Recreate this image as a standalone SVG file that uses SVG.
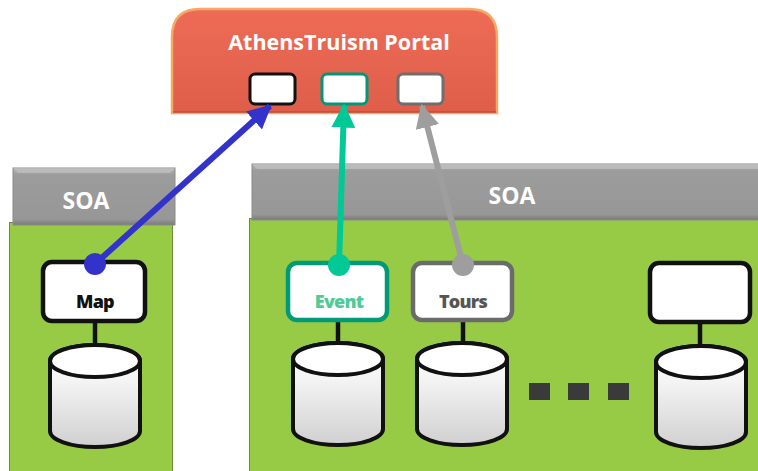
<svg xmlns="http://www.w3.org/2000/svg" width="758" height="471" viewBox="0 0 758 471">
  <defs>
    <linearGradient id="portalFill" x1="0" y1="0" x2="0" y2="1">
      <stop offset="0" stop-color="#EE6C56"/>
      <stop offset="1" stop-color="#DE5E4A"/>
    </linearGradient>
    <linearGradient id="headFill" x1="0" y1="0" x2="0" y2="1">
      <stop offset="0" stop-color="#B4B4B4"/>
      <stop offset="0.12" stop-color="#9C9C9C"/>
      <stop offset="0.9" stop-color="#979797"/>
      <stop offset="1" stop-color="#7A7A7A"/>
    </linearGradient>
    <linearGradient id="dbFill" x1="0" y1="0" x2="0" y2="1">
      <stop offset="0" stop-color="#FFFFFF"/>
      <stop offset="0.35" stop-color="#F4F4F4"/>
      <stop offset="1" stop-color="#D0D0D0"/>
    </linearGradient>
    <marker id="headBlue" viewBox="0 0 10 10" refX="9" refY="5" markerWidth="4" markerHeight="4" orient="auto" markerUnits="strokeWidth">
      <path d="M0,0 L10,5 L0,10 z" fill="#3333CC"/>
    </marker>
    <marker id="headTeal" viewBox="0 0 10 10" refX="9" refY="5" markerWidth="4" markerHeight="4" orient="auto" markerUnits="strokeWidth">
      <path d="M0,0 L10,5 L0,10 z" fill="#00C896"/>
    </marker>
    <marker id="headGray" viewBox="0 0 10 10" refX="9" refY="5" markerWidth="4" markerHeight="4" orient="auto" markerUnits="strokeWidth">
      <path d="M0,0 L10,5 L0,10 z" fill="#9E9E9E"/>
    </marker>
    <!-- database cylinder, 90 wide, origin at top-left of the body -->
    <g id="db">
      <path d="M0,16 L0,86 A45,16 0 0 0 90,86 L90,16 A45,16 0 0 0 0,16 z" fill="url(#dbFill)" stroke="#111" stroke-width="4"/>
      <ellipse cx="45" cy="16" rx="45" ry="16" fill="#FFFFFF" stroke="#111" stroke-width="4"/>
    </g>
  </defs>
  <style>
    .soa { font-family: "Open Sans", "Liberation Sans", sans-serif; font-weight: bold; font-size: 23px; fill: #FFFFFF; text-anchor: middle; }
    .body { fill: #97CB45; stroke: #6E8F3A; stroke-width: 1; }
    .head { fill: url(#headFill); stroke: #8A8A8A; stroke-width: 1; }
    .svc { fill: #FFFFFF; stroke-width: 4.5; }
    .lbl { font-family: "Open Sans", "Liberation Sans", sans-serif; font-weight: 800; font-size: 18px; text-anchor: middle; letter-spacing: -0.8px; }
    .port { fill: #FFFFFF; stroke-width: 3; }
    .stem { stroke: #111; stroke-width: 4.5; }
    .dots { fill: #3A3A3A; }
  </style>

  <rect width="758" height="471" fill="#FFFFFF"/>

  <!-- portal -->
  <g id="portal">
    <path d="M172,113 L172,37 Q172,9 200,9 L469,9 Q497,9 497,37 L497,113 z" fill="url(#portalFill)" stroke="#F5A964" stroke-width="2.5"/>
    <line x1="173" y1="112" x2="496" y2="112" stroke="#B8493A" stroke-width="1.5"/>
    <text x="339" y="50" font-family="'Open Sans', 'Liberation Sans', sans-serif" font-weight="bold" font-size="21.5" fill="#FFFFFF" text-anchor="middle">AthensTruism Portal</text>
    <rect class="port" x="250" y="74" width="45" height="30" rx="5" stroke="#111"/>
    <rect class="port" x="322" y="74" width="45" height="30" rx="5" stroke="#00977A"/>
    <rect class="port" x="398" y="74" width="45" height="30" rx="5" stroke="#6E6E6E"/>
  </g>

  <!-- left SOA container -->
  <g id="soa-left">
    <rect class="body" x="9.5" y="222.5" width="163" height="252"/>
    <rect class="head" x="13" y="168" width="162" height="57"/>
    <path d="M13,168 L175,168 L170,173 L18,173 z" fill="#C2C2C2" opacity="0.7"/>
    <text class="soa" x="86" y="209">SOA</text>
  </g>

  <!-- right SOA container -->
  <g id="soa-right">
    <rect class="body" x="249.5" y="218.5" width="515" height="260"/>
    <rect class="head" x="252" y="164" width="515" height="56"/>
    <path d="M252,164 L767,164 L767,169 L257,169 z" fill="#C2C2C2" opacity="0.7"/>
    <text class="soa" x="512" y="204">SOA</text>
  </g>

  <!-- services with their stores -->
  <g id="map">
    <line class="stem" x1="95" y1="322" x2="95" y2="346"/>
    <use href="#db" x="50" y="345"/>
    <rect class="svc" x="43" y="262" width="102" height="59" rx="9" stroke="#111"/>
    <text class="lbl" x="95" y="308" fill="#111">Map</text>
  </g>
  <g id="event">
    <line class="stem" x1="338" y1="320" x2="338" y2="344"/>
    <use href="#db" x="293" y="343"/>
    <rect class="svc" x="288" y="263" width="99" height="57" rx="9" stroke="#009A78"/>
    <text class="lbl" x="339" y="308" fill="#4ECB96">Event</text>
  </g>
  <g id="tours">
    <line class="stem" x1="463" y1="320" x2="463" y2="344"/>
    <use href="#db" x="417" y="343"/>
    <rect class="svc" x="413" y="263" width="99" height="57" rx="9" stroke="#6B6B6B"/>
    <text class="lbl" x="463" y="308" fill="#555555">Tours</text>
  </g>
  <g id="service-n">
    <line class="stem" x1="700" y1="322" x2="700" y2="347"/>
    <use href="#db" x="656" y="346"/>
    <rect class="svc" x="650" y="263" width="100" height="59" rx="9" stroke="#111"/>
  </g>

  <!-- ellipsis between stores -->
  <g id="more">
    <rect class="dots" x="529" y="383" width="21" height="17"/>
    <rect class="dots" x="568" y="383" width="21" height="17"/>
    <rect class="dots" x="608" y="383" width="21" height="17"/>
  </g>

  <!-- connectors -->
  <g id="connectors" stroke-width="6" fill="none">
    <line x1="95" y1="264" x2="270" y2="106" stroke="#3333CC" marker-end="url(#headBlue)"/>
    <circle cx="95" cy="264" r="11" fill="#3333CC" stroke="none"/>
    <line x1="339" y1="265" x2="344" y2="106" stroke="#00C896" marker-end="url(#headTeal)"/>
    <circle cx="339" cy="265" r="11" fill="#00C896" stroke="none"/>
    <line x1="463" y1="265" x2="422" y2="106" stroke="#9E9E9E" marker-end="url(#headGray)"/>
    <circle cx="463" cy="265" r="11" fill="#9E9E9E" stroke="none"/>
  </g>
</svg>
